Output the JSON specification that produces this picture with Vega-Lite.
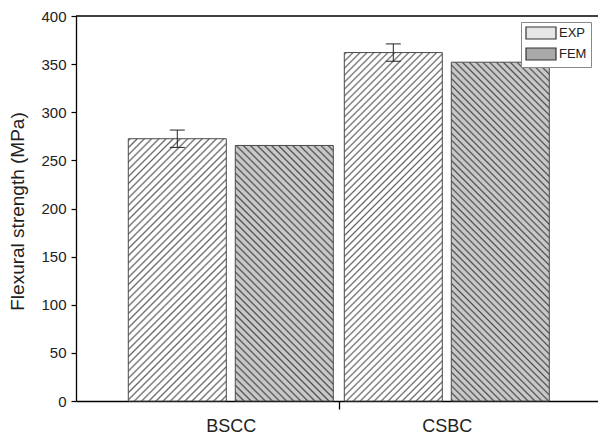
{
"$schema":"https://vega.github.io/schema/vega-lite/v6.json",
"width":522,"height":385,
"autosize":{"type":"none"},
"padding":{"left":76,"top":16,"right":0,"bottom":36},
"config":{"view":{"stroke":null},"font":"Liberation Sans"},
"data":{"values":[
{"cat":"BSCC","type":"EXP","value":272.5,"lo":263.5,"hi":281.5},
{"cat":"BSCC","type":"FEM","value":265.5},
{"cat":"CSBC","type":"EXP","value":362,"lo":353,"hi":371},
{"cat":"CSBC","type":"FEM","value":352}
]},
"layer":[
{"mark":{"type":"bar","stroke":"#4a4a4a","strokeWidth":1},
"encoding":{
"x":{"field":"cat","type":"nominal","scale":{"paddingInner":0,"paddingOuter":0.2083,"align":0.52},
"axis":{"title":null,"labelAngle":0,"labelFontSize":18,"labelColor":"#222","labelPadding":8,"domainColor":"#000","domainWidth":1.3,"tickSize":8,"tickWidth":1.3,"tickOffset":108,"labelOffset":-108,"tickColor":{"condition":{"test":"datum.value==='BSCC'","value":"#000"},"value":"transparent"}}},
"xOffset":{"field":"type","type":"nominal","scale":{"paddingInner":0.084,"paddingOuter":0.0514}},
"y":{"field":"value","type":"quantitative","scale":{"domain":[0,400],"nice":false},
"axis":{"title":"Flexural strength (MPa)","titleFontSize":19,"titleFontWeight":"normal","titleColor":"#222","titleAngle":-90,"titleX":-59,"titleY":195,"titleAlign":"center","titleBaseline":"middle","grid":false,"values":[0,25,50,75,100,125,150,175,200,225,250,275,300,325,350,375,400],"labelExpr":"datum.value % 50 === 0 ? datum.label : ''","labelFontSize":15,"labelColor":"#222","labelPadding":5,"domainColor":"#000","domainWidth":1.3,"tickColor":"#000","tickWidth":1.2,"tickSize":{"condition":{"test":"datum.value % 50 === 0","value":5},"value":3}}},
"fill":{"field":"type","type":"nominal","scale":{"domain":["EXP","FEM"],"range":["#e6e6e6","#a9a9a9"]},
"legend":{"title":null,"orient":"none","legendX":445,"legendY":6,"strokeColor":"#888","fillColor":"#fff","padding":4,"rowPadding":3,"symbolType":"M-1,-1H4V1H-1Z","symbolSize":144,"symbolStrokeColor":"#333","symbolStrokeWidth":1.2,"symbolOpacity":1,"labelFontSize":13,"labelColor":"#222","labelOffset":20},
"condition":[
{"test":"datum.cat==='BSCC'&&datum.type==='EXP'","value":{"gradient":"linear","x1":0,"y1":0,"x2":0.4504,"y2":1.2054,"stops":[
{"offset":0,"color":"#fff"},{"offset":0.005,"color":"#666"},{"offset":0.01,"color":"#fff"},
{"offset":0.02,"color":"#fff"},{"offset":0.025,"color":"#666"},{"offset":0.03,"color":"#fff"},
{"offset":0.04,"color":"#fff"},{"offset":0.045,"color":"#666"},{"offset":0.05,"color":"#fff"},
{"offset":0.06,"color":"#fff"},{"offset":0.065,"color":"#666"},{"offset":0.07,"color":"#fff"},
{"offset":0.08,"color":"#fff"},{"offset":0.085,"color":"#666"},{"offset":0.09,"color":"#fff"},
{"offset":0.1,"color":"#fff"},{"offset":0.105,"color":"#666"},{"offset":0.11,"color":"#fff"},
{"offset":0.12,"color":"#fff"},{"offset":0.125,"color":"#666"},{"offset":0.13,"color":"#fff"},
{"offset":0.14,"color":"#fff"},{"offset":0.145,"color":"#666"},{"offset":0.15,"color":"#fff"},
{"offset":0.16,"color":"#fff"},{"offset":0.165,"color":"#666"},{"offset":0.17,"color":"#fff"},
{"offset":0.18,"color":"#fff"},{"offset":0.185,"color":"#666"},{"offset":0.19,"color":"#fff"},
{"offset":0.2,"color":"#fff"},{"offset":0.205,"color":"#666"},{"offset":0.21,"color":"#fff"},
{"offset":0.22,"color":"#fff"},{"offset":0.225,"color":"#666"},{"offset":0.23,"color":"#fff"},
{"offset":0.24,"color":"#fff"},{"offset":0.245,"color":"#666"},{"offset":0.25,"color":"#fff"},
{"offset":0.26,"color":"#fff"},{"offset":0.265,"color":"#666"},{"offset":0.27,"color":"#fff"},
{"offset":0.28,"color":"#fff"},{"offset":0.285,"color":"#666"},{"offset":0.29,"color":"#fff"},
{"offset":0.3,"color":"#fff"},{"offset":0.305,"color":"#666"},{"offset":0.31,"color":"#fff"},
{"offset":0.32,"color":"#fff"},{"offset":0.325,"color":"#666"},{"offset":0.33,"color":"#fff"},
{"offset":0.34,"color":"#fff"},{"offset":0.345,"color":"#666"},{"offset":0.35,"color":"#fff"},
{"offset":0.36,"color":"#fff"},{"offset":0.365,"color":"#666"},{"offset":0.37,"color":"#fff"},
{"offset":0.38,"color":"#fff"},{"offset":0.385,"color":"#666"},{"offset":0.39,"color":"#fff"},
{"offset":0.4,"color":"#fff"},{"offset":0.405,"color":"#666"},{"offset":0.41,"color":"#fff"},
{"offset":0.42,"color":"#fff"},{"offset":0.425,"color":"#666"},{"offset":0.43,"color":"#fff"},
{"offset":0.44,"color":"#fff"},{"offset":0.445,"color":"#666"},{"offset":0.45,"color":"#fff"},
{"offset":0.46,"color":"#fff"},{"offset":0.465,"color":"#666"},{"offset":0.47,"color":"#fff"},
{"offset":0.48,"color":"#fff"},{"offset":0.485,"color":"#666"},{"offset":0.49,"color":"#fff"},
{"offset":0.5,"color":"#fff"},{"offset":0.505,"color":"#666"},{"offset":0.51,"color":"#fff"},
{"offset":0.52,"color":"#fff"},{"offset":0.525,"color":"#666"},{"offset":0.53,"color":"#fff"},
{"offset":0.54,"color":"#fff"},{"offset":0.545,"color":"#666"},{"offset":0.55,"color":"#fff"},
{"offset":0.56,"color":"#fff"},{"offset":0.565,"color":"#666"},{"offset":0.57,"color":"#fff"},
{"offset":0.58,"color":"#fff"},{"offset":0.585,"color":"#666"},{"offset":0.59,"color":"#fff"},
{"offset":0.6,"color":"#fff"},{"offset":0.605,"color":"#666"},{"offset":0.61,"color":"#fff"},
{"offset":0.62,"color":"#fff"},{"offset":0.625,"color":"#666"},{"offset":0.63,"color":"#fff"},
{"offset":0.64,"color":"#fff"},{"offset":0.645,"color":"#666"},{"offset":0.65,"color":"#fff"},
{"offset":0.66,"color":"#fff"},{"offset":0.665,"color":"#666"},{"offset":0.67,"color":"#fff"},
{"offset":0.68,"color":"#fff"},{"offset":0.685,"color":"#666"},{"offset":0.69,"color":"#fff"},
{"offset":0.7,"color":"#fff"},{"offset":0.705,"color":"#666"},{"offset":0.71,"color":"#fff"},
{"offset":0.72,"color":"#fff"},{"offset":0.725,"color":"#666"},{"offset":0.73,"color":"#fff"},
{"offset":0.74,"color":"#fff"},{"offset":0.745,"color":"#666"},{"offset":0.75,"color":"#fff"},
{"offset":0.76,"color":"#fff"},{"offset":0.765,"color":"#666"},{"offset":0.77,"color":"#fff"},
{"offset":0.78,"color":"#fff"},{"offset":0.785,"color":"#666"},{"offset":0.79,"color":"#fff"},
{"offset":0.8,"color":"#fff"},{"offset":0.805,"color":"#666"},{"offset":0.81,"color":"#fff"},
{"offset":0.82,"color":"#fff"},{"offset":0.825,"color":"#666"},{"offset":0.83,"color":"#fff"},
{"offset":0.84,"color":"#fff"},{"offset":0.845,"color":"#666"},{"offset":0.85,"color":"#fff"},
{"offset":0.86,"color":"#fff"},{"offset":0.865,"color":"#666"},{"offset":0.87,"color":"#fff"},
{"offset":0.88,"color":"#fff"},{"offset":0.885,"color":"#666"},{"offset":0.89,"color":"#fff"},
{"offset":0.9,"color":"#fff"},{"offset":0.905,"color":"#666"},{"offset":0.91,"color":"#fff"},
{"offset":0.92,"color":"#fff"},{"offset":0.925,"color":"#666"},{"offset":0.93,"color":"#fff"},
{"offset":0.94,"color":"#fff"},{"offset":0.945,"color":"#666"},{"offset":0.95,"color":"#fff"},
{"offset":0.96,"color":"#fff"},{"offset":0.965,"color":"#666"},{"offset":0.97,"color":"#fff"},
{"offset":0.98,"color":"#fff"},{"offset":0.985,"color":"#666"},{"offset":0.99,"color":"#fff"}]}},
{"test":"datum.cat==='BSCC'&&datum.type==='FEM'","value":{"gradient":"linear","x1":0,"y1":1,"x2":0.4626,"y2":-0.2061,"stops":[
{"offset":0,"color":"#c8c8c8"},{"offset":0.005,"color":"#4d4d4d"},{"offset":0.01,"color":"#c8c8c8"},
{"offset":0.02,"color":"#c8c8c8"},{"offset":0.025,"color":"#4d4d4d"},{"offset":0.03,"color":"#c8c8c8"},
{"offset":0.04,"color":"#c8c8c8"},{"offset":0.045,"color":"#4d4d4d"},{"offset":0.05,"color":"#c8c8c8"},
{"offset":0.06,"color":"#c8c8c8"},{"offset":0.065,"color":"#4d4d4d"},{"offset":0.07,"color":"#c8c8c8"},
{"offset":0.08,"color":"#c8c8c8"},{"offset":0.085,"color":"#4d4d4d"},{"offset":0.09,"color":"#c8c8c8"},
{"offset":0.1,"color":"#c8c8c8"},{"offset":0.105,"color":"#4d4d4d"},{"offset":0.11,"color":"#c8c8c8"},
{"offset":0.12,"color":"#c8c8c8"},{"offset":0.125,"color":"#4d4d4d"},{"offset":0.13,"color":"#c8c8c8"},
{"offset":0.14,"color":"#c8c8c8"},{"offset":0.145,"color":"#4d4d4d"},{"offset":0.15,"color":"#c8c8c8"},
{"offset":0.16,"color":"#c8c8c8"},{"offset":0.165,"color":"#4d4d4d"},{"offset":0.17,"color":"#c8c8c8"},
{"offset":0.18,"color":"#c8c8c8"},{"offset":0.185,"color":"#4d4d4d"},{"offset":0.19,"color":"#c8c8c8"},
{"offset":0.2,"color":"#c8c8c8"},{"offset":0.205,"color":"#4d4d4d"},{"offset":0.21,"color":"#c8c8c8"},
{"offset":0.22,"color":"#c8c8c8"},{"offset":0.225,"color":"#4d4d4d"},{"offset":0.23,"color":"#c8c8c8"},
{"offset":0.24,"color":"#c8c8c8"},{"offset":0.245,"color":"#4d4d4d"},{"offset":0.25,"color":"#c8c8c8"},
{"offset":0.26,"color":"#c8c8c8"},{"offset":0.265,"color":"#4d4d4d"},{"offset":0.27,"color":"#c8c8c8"},
{"offset":0.28,"color":"#c8c8c8"},{"offset":0.285,"color":"#4d4d4d"},{"offset":0.29,"color":"#c8c8c8"},
{"offset":0.3,"color":"#c8c8c8"},{"offset":0.305,"color":"#4d4d4d"},{"offset":0.31,"color":"#c8c8c8"},
{"offset":0.32,"color":"#c8c8c8"},{"offset":0.325,"color":"#4d4d4d"},{"offset":0.33,"color":"#c8c8c8"},
{"offset":0.34,"color":"#c8c8c8"},{"offset":0.345,"color":"#4d4d4d"},{"offset":0.35,"color":"#c8c8c8"},
{"offset":0.36,"color":"#c8c8c8"},{"offset":0.365,"color":"#4d4d4d"},{"offset":0.37,"color":"#c8c8c8"},
{"offset":0.38,"color":"#c8c8c8"},{"offset":0.385,"color":"#4d4d4d"},{"offset":0.39,"color":"#c8c8c8"},
{"offset":0.4,"color":"#c8c8c8"},{"offset":0.405,"color":"#4d4d4d"},{"offset":0.41,"color":"#c8c8c8"},
{"offset":0.42,"color":"#c8c8c8"},{"offset":0.425,"color":"#4d4d4d"},{"offset":0.43,"color":"#c8c8c8"},
{"offset":0.44,"color":"#c8c8c8"},{"offset":0.445,"color":"#4d4d4d"},{"offset":0.45,"color":"#c8c8c8"},
{"offset":0.46,"color":"#c8c8c8"},{"offset":0.465,"color":"#4d4d4d"},{"offset":0.47,"color":"#c8c8c8"},
{"offset":0.48,"color":"#c8c8c8"},{"offset":0.485,"color":"#4d4d4d"},{"offset":0.49,"color":"#c8c8c8"},
{"offset":0.5,"color":"#c8c8c8"},{"offset":0.505,"color":"#4d4d4d"},{"offset":0.51,"color":"#c8c8c8"},
{"offset":0.52,"color":"#c8c8c8"},{"offset":0.525,"color":"#4d4d4d"},{"offset":0.53,"color":"#c8c8c8"},
{"offset":0.54,"color":"#c8c8c8"},{"offset":0.545,"color":"#4d4d4d"},{"offset":0.55,"color":"#c8c8c8"},
{"offset":0.56,"color":"#c8c8c8"},{"offset":0.565,"color":"#4d4d4d"},{"offset":0.57,"color":"#c8c8c8"},
{"offset":0.58,"color":"#c8c8c8"},{"offset":0.585,"color":"#4d4d4d"},{"offset":0.59,"color":"#c8c8c8"},
{"offset":0.6,"color":"#c8c8c8"},{"offset":0.605,"color":"#4d4d4d"},{"offset":0.61,"color":"#c8c8c8"},
{"offset":0.62,"color":"#c8c8c8"},{"offset":0.625,"color":"#4d4d4d"},{"offset":0.63,"color":"#c8c8c8"},
{"offset":0.64,"color":"#c8c8c8"},{"offset":0.645,"color":"#4d4d4d"},{"offset":0.65,"color":"#c8c8c8"},
{"offset":0.66,"color":"#c8c8c8"},{"offset":0.665,"color":"#4d4d4d"},{"offset":0.67,"color":"#c8c8c8"},
{"offset":0.68,"color":"#c8c8c8"},{"offset":0.685,"color":"#4d4d4d"},{"offset":0.69,"color":"#c8c8c8"},
{"offset":0.7,"color":"#c8c8c8"},{"offset":0.705,"color":"#4d4d4d"},{"offset":0.71,"color":"#c8c8c8"},
{"offset":0.72,"color":"#c8c8c8"},{"offset":0.725,"color":"#4d4d4d"},{"offset":0.73,"color":"#c8c8c8"},
{"offset":0.74,"color":"#c8c8c8"},{"offset":0.745,"color":"#4d4d4d"},{"offset":0.75,"color":"#c8c8c8"},
{"offset":0.76,"color":"#c8c8c8"},{"offset":0.765,"color":"#4d4d4d"},{"offset":0.77,"color":"#c8c8c8"},
{"offset":0.78,"color":"#c8c8c8"},{"offset":0.785,"color":"#4d4d4d"},{"offset":0.79,"color":"#c8c8c8"},
{"offset":0.8,"color":"#c8c8c8"},{"offset":0.805,"color":"#4d4d4d"},{"offset":0.81,"color":"#c8c8c8"},
{"offset":0.82,"color":"#c8c8c8"},{"offset":0.825,"color":"#4d4d4d"},{"offset":0.83,"color":"#c8c8c8"},
{"offset":0.84,"color":"#c8c8c8"},{"offset":0.845,"color":"#4d4d4d"},{"offset":0.85,"color":"#c8c8c8"},
{"offset":0.86,"color":"#c8c8c8"},{"offset":0.865,"color":"#4d4d4d"},{"offset":0.87,"color":"#c8c8c8"},
{"offset":0.88,"color":"#c8c8c8"},{"offset":0.885,"color":"#4d4d4d"},{"offset":0.89,"color":"#c8c8c8"},
{"offset":0.9,"color":"#c8c8c8"},{"offset":0.905,"color":"#4d4d4d"},{"offset":0.91,"color":"#c8c8c8"},
{"offset":0.92,"color":"#c8c8c8"},{"offset":0.925,"color":"#4d4d4d"},{"offset":0.93,"color":"#c8c8c8"},
{"offset":0.94,"color":"#c8c8c8"},{"offset":0.945,"color":"#4d4d4d"},{"offset":0.95,"color":"#c8c8c8"},
{"offset":0.96,"color":"#c8c8c8"},{"offset":0.965,"color":"#4d4d4d"},{"offset":0.97,"color":"#c8c8c8"},
{"offset":0.98,"color":"#c8c8c8"},{"offset":0.985,"color":"#4d4d4d"},{"offset":0.99,"color":"#c8c8c8"}]}},
{"test":"datum.cat==='CSBC'&&datum.type==='EXP'","value":{"gradient":"linear","x1":0,"y1":0,"x2":0.334,"y2":1.1873,"stops":[
{"offset":0,"color":"#fff"},{"offset":0.0039,"color":"#666"},{"offset":0.0078,"color":"#fff"},
{"offset":0.0156,"color":"#fff"},{"offset":0.0195,"color":"#666"},{"offset":0.0234,"color":"#fff"},
{"offset":0.0313,"color":"#fff"},{"offset":0.0352,"color":"#666"},{"offset":0.0391,"color":"#fff"},
{"offset":0.0469,"color":"#fff"},{"offset":0.0508,"color":"#666"},{"offset":0.0547,"color":"#fff"},
{"offset":0.0625,"color":"#fff"},{"offset":0.0664,"color":"#666"},{"offset":0.0703,"color":"#fff"},
{"offset":0.0781,"color":"#fff"},{"offset":0.082,"color":"#666"},{"offset":0.0859,"color":"#fff"},
{"offset":0.0938,"color":"#fff"},{"offset":0.0977,"color":"#666"},{"offset":0.1016,"color":"#fff"},
{"offset":0.1094,"color":"#fff"},{"offset":0.1133,"color":"#666"},{"offset":0.1172,"color":"#fff"},
{"offset":0.125,"color":"#fff"},{"offset":0.1289,"color":"#666"},{"offset":0.1328,"color":"#fff"},
{"offset":0.1406,"color":"#fff"},{"offset":0.1445,"color":"#666"},{"offset":0.1484,"color":"#fff"},
{"offset":0.1563,"color":"#fff"},{"offset":0.1602,"color":"#666"},{"offset":0.1641,"color":"#fff"},
{"offset":0.1719,"color":"#fff"},{"offset":0.1758,"color":"#666"},{"offset":0.1797,"color":"#fff"},
{"offset":0.1875,"color":"#fff"},{"offset":0.1914,"color":"#666"},{"offset":0.1953,"color":"#fff"},
{"offset":0.2031,"color":"#fff"},{"offset":0.207,"color":"#666"},{"offset":0.2109,"color":"#fff"},
{"offset":0.2188,"color":"#fff"},{"offset":0.2227,"color":"#666"},{"offset":0.2266,"color":"#fff"},
{"offset":0.2344,"color":"#fff"},{"offset":0.2383,"color":"#666"},{"offset":0.2422,"color":"#fff"},
{"offset":0.25,"color":"#fff"},{"offset":0.2539,"color":"#666"},{"offset":0.2578,"color":"#fff"},
{"offset":0.2656,"color":"#fff"},{"offset":0.2695,"color":"#666"},{"offset":0.2734,"color":"#fff"},
{"offset":0.2813,"color":"#fff"},{"offset":0.2852,"color":"#666"},{"offset":0.2891,"color":"#fff"},
{"offset":0.2969,"color":"#fff"},{"offset":0.3008,"color":"#666"},{"offset":0.3047,"color":"#fff"},
{"offset":0.3125,"color":"#fff"},{"offset":0.3164,"color":"#666"},{"offset":0.3203,"color":"#fff"},
{"offset":0.3281,"color":"#fff"},{"offset":0.332,"color":"#666"},{"offset":0.3359,"color":"#fff"},
{"offset":0.3438,"color":"#fff"},{"offset":0.3477,"color":"#666"},{"offset":0.3516,"color":"#fff"},
{"offset":0.3594,"color":"#fff"},{"offset":0.3633,"color":"#666"},{"offset":0.3672,"color":"#fff"},
{"offset":0.375,"color":"#fff"},{"offset":0.3789,"color":"#666"},{"offset":0.3828,"color":"#fff"},
{"offset":0.3906,"color":"#fff"},{"offset":0.3945,"color":"#666"},{"offset":0.3984,"color":"#fff"},
{"offset":0.4063,"color":"#fff"},{"offset":0.4102,"color":"#666"},{"offset":0.4141,"color":"#fff"},
{"offset":0.4219,"color":"#fff"},{"offset":0.4258,"color":"#666"},{"offset":0.4297,"color":"#fff"},
{"offset":0.4375,"color":"#fff"},{"offset":0.4414,"color":"#666"},{"offset":0.4453,"color":"#fff"},
{"offset":0.4531,"color":"#fff"},{"offset":0.457,"color":"#666"},{"offset":0.4609,"color":"#fff"},
{"offset":0.4688,"color":"#fff"},{"offset":0.4727,"color":"#666"},{"offset":0.4766,"color":"#fff"},
{"offset":0.4844,"color":"#fff"},{"offset":0.4883,"color":"#666"},{"offset":0.4922,"color":"#fff"},
{"offset":0.5,"color":"#fff"},{"offset":0.5039,"color":"#666"},{"offset":0.5078,"color":"#fff"},
{"offset":0.5156,"color":"#fff"},{"offset":0.5195,"color":"#666"},{"offset":0.5234,"color":"#fff"},
{"offset":0.5313,"color":"#fff"},{"offset":0.5352,"color":"#666"},{"offset":0.5391,"color":"#fff"},
{"offset":0.5469,"color":"#fff"},{"offset":0.5508,"color":"#666"},{"offset":0.5547,"color":"#fff"},
{"offset":0.5625,"color":"#fff"},{"offset":0.5664,"color":"#666"},{"offset":0.5703,"color":"#fff"},
{"offset":0.5781,"color":"#fff"},{"offset":0.582,"color":"#666"},{"offset":0.5859,"color":"#fff"},
{"offset":0.5938,"color":"#fff"},{"offset":0.5977,"color":"#666"},{"offset":0.6016,"color":"#fff"},
{"offset":0.6094,"color":"#fff"},{"offset":0.6133,"color":"#666"},{"offset":0.6172,"color":"#fff"},
{"offset":0.625,"color":"#fff"},{"offset":0.6289,"color":"#666"},{"offset":0.6328,"color":"#fff"},
{"offset":0.6406,"color":"#fff"},{"offset":0.6445,"color":"#666"},{"offset":0.6484,"color":"#fff"},
{"offset":0.6563,"color":"#fff"},{"offset":0.6602,"color":"#666"},{"offset":0.6641,"color":"#fff"},
{"offset":0.6719,"color":"#fff"},{"offset":0.6758,"color":"#666"},{"offset":0.6797,"color":"#fff"},
{"offset":0.6875,"color":"#fff"},{"offset":0.6914,"color":"#666"},{"offset":0.6953,"color":"#fff"},
{"offset":0.7031,"color":"#fff"},{"offset":0.707,"color":"#666"},{"offset":0.7109,"color":"#fff"},
{"offset":0.7188,"color":"#fff"},{"offset":0.7227,"color":"#666"},{"offset":0.7266,"color":"#fff"},
{"offset":0.7344,"color":"#fff"},{"offset":0.7383,"color":"#666"},{"offset":0.7422,"color":"#fff"},
{"offset":0.75,"color":"#fff"},{"offset":0.7539,"color":"#666"},{"offset":0.7578,"color":"#fff"},
{"offset":0.7656,"color":"#fff"},{"offset":0.7695,"color":"#666"},{"offset":0.7734,"color":"#fff"},
{"offset":0.7813,"color":"#fff"},{"offset":0.7852,"color":"#666"},{"offset":0.7891,"color":"#fff"},
{"offset":0.7969,"color":"#fff"},{"offset":0.8008,"color":"#666"},{"offset":0.8047,"color":"#fff"},
{"offset":0.8125,"color":"#fff"},{"offset":0.8164,"color":"#666"},{"offset":0.8203,"color":"#fff"},
{"offset":0.8281,"color":"#fff"},{"offset":0.832,"color":"#666"},{"offset":0.8359,"color":"#fff"},
{"offset":0.8438,"color":"#fff"},{"offset":0.8477,"color":"#666"},{"offset":0.8516,"color":"#fff"},
{"offset":0.8594,"color":"#fff"},{"offset":0.8633,"color":"#666"},{"offset":0.8672,"color":"#fff"},
{"offset":0.875,"color":"#fff"},{"offset":0.8789,"color":"#666"},{"offset":0.8828,"color":"#fff"},
{"offset":0.8906,"color":"#fff"},{"offset":0.8945,"color":"#666"},{"offset":0.8984,"color":"#fff"},
{"offset":0.9063,"color":"#fff"},{"offset":0.9102,"color":"#666"},{"offset":0.9141,"color":"#fff"},
{"offset":0.9219,"color":"#fff"},{"offset":0.9258,"color":"#666"},{"offset":0.9297,"color":"#fff"},
{"offset":0.9375,"color":"#fff"},{"offset":0.9414,"color":"#666"},{"offset":0.9453,"color":"#fff"},
{"offset":0.9531,"color":"#fff"},{"offset":0.957,"color":"#666"},{"offset":0.9609,"color":"#fff"},
{"offset":0.9688,"color":"#fff"},{"offset":0.9727,"color":"#666"},{"offset":0.9766,"color":"#fff"},
{"offset":0.9844,"color":"#fff"},{"offset":0.9883,"color":"#666"},{"offset":0.9922,"color":"#fff"}]}},
{"test":"datum.cat==='CSBC'&&datum.type==='FEM'","value":{"gradient":"linear","x1":0,"y1":1,"x2":0.3441,"y2":-0.1897,"stops":[
{"offset":0,"color":"#c8c8c8"},{"offset":0.0039,"color":"#4d4d4d"},{"offset":0.0078,"color":"#c8c8c8"},
{"offset":0.0156,"color":"#c8c8c8"},{"offset":0.0195,"color":"#4d4d4d"},{"offset":0.0234,"color":"#c8c8c8"},
{"offset":0.0313,"color":"#c8c8c8"},{"offset":0.0352,"color":"#4d4d4d"},{"offset":0.0391,"color":"#c8c8c8"},
{"offset":0.0469,"color":"#c8c8c8"},{"offset":0.0508,"color":"#4d4d4d"},{"offset":0.0547,"color":"#c8c8c8"},
{"offset":0.0625,"color":"#c8c8c8"},{"offset":0.0664,"color":"#4d4d4d"},{"offset":0.0703,"color":"#c8c8c8"},
{"offset":0.0781,"color":"#c8c8c8"},{"offset":0.082,"color":"#4d4d4d"},{"offset":0.0859,"color":"#c8c8c8"},
{"offset":0.0938,"color":"#c8c8c8"},{"offset":0.0977,"color":"#4d4d4d"},{"offset":0.1016,"color":"#c8c8c8"},
{"offset":0.1094,"color":"#c8c8c8"},{"offset":0.1133,"color":"#4d4d4d"},{"offset":0.1172,"color":"#c8c8c8"},
{"offset":0.125,"color":"#c8c8c8"},{"offset":0.1289,"color":"#4d4d4d"},{"offset":0.1328,"color":"#c8c8c8"},
{"offset":0.1406,"color":"#c8c8c8"},{"offset":0.1445,"color":"#4d4d4d"},{"offset":0.1484,"color":"#c8c8c8"},
{"offset":0.1563,"color":"#c8c8c8"},{"offset":0.1602,"color":"#4d4d4d"},{"offset":0.1641,"color":"#c8c8c8"},
{"offset":0.1719,"color":"#c8c8c8"},{"offset":0.1758,"color":"#4d4d4d"},{"offset":0.1797,"color":"#c8c8c8"},
{"offset":0.1875,"color":"#c8c8c8"},{"offset":0.1914,"color":"#4d4d4d"},{"offset":0.1953,"color":"#c8c8c8"},
{"offset":0.2031,"color":"#c8c8c8"},{"offset":0.207,"color":"#4d4d4d"},{"offset":0.2109,"color":"#c8c8c8"},
{"offset":0.2188,"color":"#c8c8c8"},{"offset":0.2227,"color":"#4d4d4d"},{"offset":0.2266,"color":"#c8c8c8"},
{"offset":0.2344,"color":"#c8c8c8"},{"offset":0.2383,"color":"#4d4d4d"},{"offset":0.2422,"color":"#c8c8c8"},
{"offset":0.25,"color":"#c8c8c8"},{"offset":0.2539,"color":"#4d4d4d"},{"offset":0.2578,"color":"#c8c8c8"},
{"offset":0.2656,"color":"#c8c8c8"},{"offset":0.2695,"color":"#4d4d4d"},{"offset":0.2734,"color":"#c8c8c8"},
{"offset":0.2813,"color":"#c8c8c8"},{"offset":0.2852,"color":"#4d4d4d"},{"offset":0.2891,"color":"#c8c8c8"},
{"offset":0.2969,"color":"#c8c8c8"},{"offset":0.3008,"color":"#4d4d4d"},{"offset":0.3047,"color":"#c8c8c8"},
{"offset":0.3125,"color":"#c8c8c8"},{"offset":0.3164,"color":"#4d4d4d"},{"offset":0.3203,"color":"#c8c8c8"},
{"offset":0.3281,"color":"#c8c8c8"},{"offset":0.332,"color":"#4d4d4d"},{"offset":0.3359,"color":"#c8c8c8"},
{"offset":0.3438,"color":"#c8c8c8"},{"offset":0.3477,"color":"#4d4d4d"},{"offset":0.3516,"color":"#c8c8c8"},
{"offset":0.3594,"color":"#c8c8c8"},{"offset":0.3633,"color":"#4d4d4d"},{"offset":0.3672,"color":"#c8c8c8"},
{"offset":0.375,"color":"#c8c8c8"},{"offset":0.3789,"color":"#4d4d4d"},{"offset":0.3828,"color":"#c8c8c8"},
{"offset":0.3906,"color":"#c8c8c8"},{"offset":0.3945,"color":"#4d4d4d"},{"offset":0.3984,"color":"#c8c8c8"},
{"offset":0.4063,"color":"#c8c8c8"},{"offset":0.4102,"color":"#4d4d4d"},{"offset":0.4141,"color":"#c8c8c8"},
{"offset":0.4219,"color":"#c8c8c8"},{"offset":0.4258,"color":"#4d4d4d"},{"offset":0.4297,"color":"#c8c8c8"},
{"offset":0.4375,"color":"#c8c8c8"},{"offset":0.4414,"color":"#4d4d4d"},{"offset":0.4453,"color":"#c8c8c8"},
{"offset":0.4531,"color":"#c8c8c8"},{"offset":0.457,"color":"#4d4d4d"},{"offset":0.4609,"color":"#c8c8c8"},
{"offset":0.4688,"color":"#c8c8c8"},{"offset":0.4727,"color":"#4d4d4d"},{"offset":0.4766,"color":"#c8c8c8"},
{"offset":0.4844,"color":"#c8c8c8"},{"offset":0.4883,"color":"#4d4d4d"},{"offset":0.4922,"color":"#c8c8c8"},
{"offset":0.5,"color":"#c8c8c8"},{"offset":0.5039,"color":"#4d4d4d"},{"offset":0.5078,"color":"#c8c8c8"},
{"offset":0.5156,"color":"#c8c8c8"},{"offset":0.5195,"color":"#4d4d4d"},{"offset":0.5234,"color":"#c8c8c8"},
{"offset":0.5313,"color":"#c8c8c8"},{"offset":0.5352,"color":"#4d4d4d"},{"offset":0.5391,"color":"#c8c8c8"},
{"offset":0.5469,"color":"#c8c8c8"},{"offset":0.5508,"color":"#4d4d4d"},{"offset":0.5547,"color":"#c8c8c8"},
{"offset":0.5625,"color":"#c8c8c8"},{"offset":0.5664,"color":"#4d4d4d"},{"offset":0.5703,"color":"#c8c8c8"},
{"offset":0.5781,"color":"#c8c8c8"},{"offset":0.582,"color":"#4d4d4d"},{"offset":0.5859,"color":"#c8c8c8"},
{"offset":0.5938,"color":"#c8c8c8"},{"offset":0.5977,"color":"#4d4d4d"},{"offset":0.6016,"color":"#c8c8c8"},
{"offset":0.6094,"color":"#c8c8c8"},{"offset":0.6133,"color":"#4d4d4d"},{"offset":0.6172,"color":"#c8c8c8"},
{"offset":0.625,"color":"#c8c8c8"},{"offset":0.6289,"color":"#4d4d4d"},{"offset":0.6328,"color":"#c8c8c8"},
{"offset":0.6406,"color":"#c8c8c8"},{"offset":0.6445,"color":"#4d4d4d"},{"offset":0.6484,"color":"#c8c8c8"},
{"offset":0.6563,"color":"#c8c8c8"},{"offset":0.6602,"color":"#4d4d4d"},{"offset":0.6641,"color":"#c8c8c8"},
{"offset":0.6719,"color":"#c8c8c8"},{"offset":0.6758,"color":"#4d4d4d"},{"offset":0.6797,"color":"#c8c8c8"},
{"offset":0.6875,"color":"#c8c8c8"},{"offset":0.6914,"color":"#4d4d4d"},{"offset":0.6953,"color":"#c8c8c8"},
{"offset":0.7031,"color":"#c8c8c8"},{"offset":0.707,"color":"#4d4d4d"},{"offset":0.7109,"color":"#c8c8c8"},
{"offset":0.7188,"color":"#c8c8c8"},{"offset":0.7227,"color":"#4d4d4d"},{"offset":0.7266,"color":"#c8c8c8"},
{"offset":0.7344,"color":"#c8c8c8"},{"offset":0.7383,"color":"#4d4d4d"},{"offset":0.7422,"color":"#c8c8c8"},
{"offset":0.75,"color":"#c8c8c8"},{"offset":0.7539,"color":"#4d4d4d"},{"offset":0.7578,"color":"#c8c8c8"},
{"offset":0.7656,"color":"#c8c8c8"},{"offset":0.7695,"color":"#4d4d4d"},{"offset":0.7734,"color":"#c8c8c8"},
{"offset":0.7813,"color":"#c8c8c8"},{"offset":0.7852,"color":"#4d4d4d"},{"offset":0.7891,"color":"#c8c8c8"},
{"offset":0.7969,"color":"#c8c8c8"},{"offset":0.8008,"color":"#4d4d4d"},{"offset":0.8047,"color":"#c8c8c8"},
{"offset":0.8125,"color":"#c8c8c8"},{"offset":0.8164,"color":"#4d4d4d"},{"offset":0.8203,"color":"#c8c8c8"},
{"offset":0.8281,"color":"#c8c8c8"},{"offset":0.832,"color":"#4d4d4d"},{"offset":0.8359,"color":"#c8c8c8"},
{"offset":0.8438,"color":"#c8c8c8"},{"offset":0.8477,"color":"#4d4d4d"},{"offset":0.8516,"color":"#c8c8c8"},
{"offset":0.8594,"color":"#c8c8c8"},{"offset":0.8633,"color":"#4d4d4d"},{"offset":0.8672,"color":"#c8c8c8"},
{"offset":0.875,"color":"#c8c8c8"},{"offset":0.8789,"color":"#4d4d4d"},{"offset":0.8828,"color":"#c8c8c8"},
{"offset":0.8906,"color":"#c8c8c8"},{"offset":0.8945,"color":"#4d4d4d"},{"offset":0.8984,"color":"#c8c8c8"},
{"offset":0.9063,"color":"#c8c8c8"},{"offset":0.9102,"color":"#4d4d4d"},{"offset":0.9141,"color":"#c8c8c8"},
{"offset":0.9219,"color":"#c8c8c8"},{"offset":0.9258,"color":"#4d4d4d"},{"offset":0.9297,"color":"#c8c8c8"},
{"offset":0.9375,"color":"#c8c8c8"},{"offset":0.9414,"color":"#4d4d4d"},{"offset":0.9453,"color":"#c8c8c8"},
{"offset":0.9531,"color":"#c8c8c8"},{"offset":0.957,"color":"#4d4d4d"},{"offset":0.9609,"color":"#c8c8c8"},
{"offset":0.9688,"color":"#c8c8c8"},{"offset":0.9727,"color":"#4d4d4d"},{"offset":0.9766,"color":"#c8c8c8"},
{"offset":0.9844,"color":"#c8c8c8"},{"offset":0.9883,"color":"#4d4d4d"},{"offset":0.9922,"color":"#c8c8c8"}]}}
]}
}},
{"mark":{"type":"rule","color":"#222","strokeWidth":1},
"encoding":{"x":{"field":"cat","type":"nominal"},"xOffset":{"field":"type","type":"nominal"},"y":{"field":"lo","type":"quantitative"},"y2":{"field":"hi"}}},
{"mark":{"type":"tick","orient":"horizontal","size":15,"thickness":1,"color":"#222","opacity":1},
"encoding":{"x":{"field":"cat","type":"nominal"},"xOffset":{"field":"type","type":"nominal"},"y":{"field":"lo","type":"quantitative"}}},
{"mark":{"type":"tick","orient":"horizontal","size":15,"thickness":1,"color":"#222","opacity":1},
"encoding":{"x":{"field":"cat","type":"nominal"},"xOffset":{"field":"type","type":"nominal"},"y":{"field":"hi","type":"quantitative"}}},
{"data":{"values":[{}]},"mark":{"type":"rule","color":"#000","strokeWidth":1.3},
"encoding":{"y":{"datum":400}}}
]
}
